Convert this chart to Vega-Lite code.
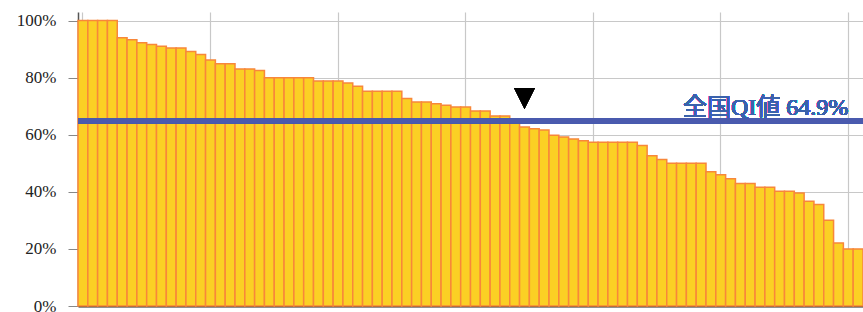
{
  "$schema": "https://vega.github.io/schema/vega-lite/v6.json",
  "width": 785,
  "height": 294,
  "autosize": {"type": "none"},
  "padding": {"left": 78, "top": 12, "right": 0, "bottom": 6},
  "background": "white",
  "config": {"view": {"stroke": null}, "font": "Liberation Serif"},
  "data": {"values": [
    {"rank": 1, "rate": 1.0}, {"rank": 2, "rate": 1.0}, {"rank": 3, "rate": 1.0}, {"rank": 4, "rate": 1.0},
    {"rank": 5, "rate": 0.940}, {"rank": 6, "rate": 0.933}, {"rank": 7, "rate": 0.922}, {"rank": 8, "rate": 0.916},
    {"rank": 9, "rate": 0.910}, {"rank": 10, "rate": 0.904}, {"rank": 11, "rate": 0.904}, {"rank": 12, "rate": 0.892},
    {"rank": 13, "rate": 0.881}, {"rank": 14, "rate": 0.862}, {"rank": 15, "rate": 0.849}, {"rank": 16, "rate": 0.849},
    {"rank": 17, "rate": 0.830}, {"rank": 18, "rate": 0.830}, {"rank": 19, "rate": 0.825}, {"rank": 20, "rate": 0.800},
    {"rank": 21, "rate": 0.800}, {"rank": 22, "rate": 0.800}, {"rank": 23, "rate": 0.800}, {"rank": 24, "rate": 0.800},
    {"rank": 25, "rate": 0.788}, {"rank": 26, "rate": 0.788}, {"rank": 27, "rate": 0.788}, {"rank": 28, "rate": 0.781},
    {"rank": 29, "rate": 0.770}, {"rank": 30, "rate": 0.752}, {"rank": 31, "rate": 0.752}, {"rank": 32, "rate": 0.752},
    {"rank": 33, "rate": 0.752}, {"rank": 34, "rate": 0.727}, {"rank": 35, "rate": 0.715}, {"rank": 36, "rate": 0.715},
    {"rank": 37, "rate": 0.709}, {"rank": 38, "rate": 0.703}, {"rank": 39, "rate": 0.697}, {"rank": 40, "rate": 0.697},
    {"rank": 41, "rate": 0.683}, {"rank": 42, "rate": 0.683}, {"rank": 43, "rate": 0.666}, {"rank": 44, "rate": 0.666},
    {"rank": 45, "rate": 0.650}, {"rank": 46, "rate": 0.627}, {"rank": 47, "rate": 0.621}, {"rank": 48, "rate": 0.617},
    {"rank": 49, "rate": 0.598}, {"rank": 50, "rate": 0.592}, {"rank": 51, "rate": 0.585}, {"rank": 52, "rate": 0.579},
    {"rank": 53, "rate": 0.574}, {"rank": 54, "rate": 0.574}, {"rank": 55, "rate": 0.574}, {"rank": 56, "rate": 0.574},
    {"rank": 57, "rate": 0.574}, {"rank": 58, "rate": 0.562}, {"rank": 59, "rate": 0.526}, {"rank": 60, "rate": 0.513},
    {"rank": 61, "rate": 0.500}, {"rank": 62, "rate": 0.500}, {"rank": 63, "rate": 0.500}, {"rank": 64, "rate": 0.500},
    {"rank": 65, "rate": 0.470}, {"rank": 66, "rate": 0.460}, {"rank": 67, "rate": 0.446}, {"rank": 68, "rate": 0.429},
    {"rank": 69, "rate": 0.429}, {"rank": 70, "rate": 0.416}, {"rank": 71, "rate": 0.416}, {"rank": 72, "rate": 0.402},
    {"rank": 73, "rate": 0.402}, {"rank": 74, "rate": 0.396}, {"rank": 75, "rate": 0.367}, {"rank": 76, "rate": 0.356},
    {"rank": 77, "rate": 0.300}, {"rank": 78, "rate": 0.221}, {"rank": 79, "rate": 0.200}, {"rank": 80, "rate": 0.200}
  ]},
  "layer": [
    {
      "mark": {"type": "bar", "fill": "#FBD024", "stroke": "#F8873A", "strokeWidth": 1.5},
      "encoding": {
        "x": {
          "field": "rank", "type": "ordinal",
          "scale": {"paddingInner": 0, "paddingOuter": 0},
          "axis": {"values": [1, 14, 27, 40, 53, 66, 79], "labels": false, "ticks": false, "title": null,
                   "grid": true, "gridColor": "#c8c8c8", "gridWidth": 1.2, "domainColor": "#222", "domainWidth": 2}
        },
        "y": {
          "field": "rate", "type": "quantitative",
          "scale": {"domain": [0, 1.03], "nice": false, "zero": true},
          "axis": {"values": [0, 0.2, 0.4, 0.6, 0.8, 1], "format": ".0%", "title": null, "grid": true,
                   "gridColor": "#c8c8c8", "gridWidth": 1.2, "tickSize": 10, "tickColor": "#888", "domainColor": "#555",
                   "domainWidth": 1.5, "labelFontSize": 17, "labelColor": "#222", "labelPadding": 12,
                   "labelFont": "Liberation Serif"}
        }
      }
    },
    {
      "mark": {"type": "rule", "color": "#4A5AAE", "strokeWidth": 5, "opacity": 0.8},
      "encoding": {"y": {"datum": 0.649, "type": "quantitative"}}
    },
    {
      "mark": {"type": "text", "text": "全国QI値 64.9%", "align": "right", "baseline": "alphabetic", "dy": -6, "dx": 0,
               "fontSize": 24, "fill": "#3A62AC", "font": "Liberation Serif, Noto Sans CJK JP"},
      "encoding": {"x": {"datum": 79, "type": "ordinal"}, "y": {"datum": 0.649, "type": "quantitative"}}
    },
    {
      "mark": {"type": "point", "shape": "M-1,-1L1,-1L0,1Z", "filled": true, "color": "#000", "opacity": 1, "size": 400, "yOffset": -22.5},
      "encoding": {"x": {"datum": 46, "type": "ordinal"}, "y": {"datum": 0.649, "type": "quantitative"}}
    }
  ]
}
